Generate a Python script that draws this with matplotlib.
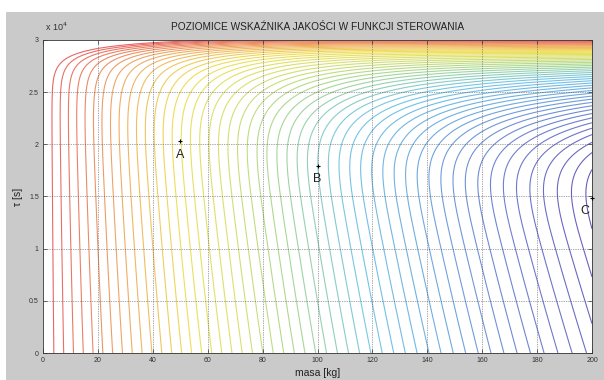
import numpy as np
import matplotlib
matplotlib.use('Agg')
import matplotlib.pyplot as plt
from matplotlib.colors import LinearSegmentedColormap, Normalize
from matplotlib.patches import Rectangle

# ---------------- data ----------------
mass_limits = [0, 200]
tau_limits = [0, 30000]
opt_mass = [50, 100, 200]          # points A, B, C
opt_tau = [20300, 17950, 14900]
opt_labels = ['A', 'B', 'C']
x_ticks = [0, 20, 40, 60, 80, 100, 120, 140, 160, 180, 200]
x_tick_labels = ['0', '20', '40', '60', '80', '100', '120', '140', '160', '180', '200']
y_ticks = [0, 5000, 10000, 15000, 20000, 25000, 30000]
y_tick_labels = ['0', '0.5', '1', '1.5', '2', '2.5', '3']
level_start, level_stop, level_step = 0.3, 51.5, 1.0

# quality-index surface model (in contour-level units, tau in 1e4 s)
F_coef = [0.000379, -0.338, 52.4]   # mass term
w_max, w_scale = 2.5, 90.0          # mass coupling of tau term
v_eps, v_c, v_p, v_shift = 0.1, 4.67, 2.98, 0.09
d_amp, d_scale = 10.6, 0.09         # steep rise near tau max

cmap_stops = [0.0, 0.12, 0.25, 0.38, 0.52, 0.62, 0.72, 0.85, 1.0]
cmap_cols = ['#6a5cbd', '#7080cf', '#70a8df', '#74c6e8', '#aad892',
             '#d8e072', '#efe058', '#f0ab66', '#e86666']

# ---------------- surface ----------------
m = np.linspace(mass_limits[0], mass_limits[1], 501)
tau = np.linspace(tau_limits[0], tau_limits[1], 751)
M, TAU = np.meshgrid(m, tau)
t = TAU / 1e4
tstar = np.polyval(np.polyfit(opt_mass, np.array(opt_tau) / 1e4, 2), M) - v_shift
x = t - tstar
V = v_eps * np.logaddexp(0, -x / v_eps) - v_eps * np.log(2) + v_c * np.clip(x, 0, None) ** v_p
W = w_max * (1 - np.exp(-M / w_scale))
J = np.polyval(F_coef, M) + W * V + d_amp * np.exp((t - 3) / d_scale)

levels = np.arange(level_start, level_stop, level_step)
cmap = LinearSegmentedColormap.from_list('scan', list(zip(cmap_stops, cmap_cols)))

# ---------------- figure ----------------
fig = plt.figure(figsize=(6.04, 3.80), dpi=100, facecolor='white')
bg = Rectangle((6 / 604, 0), 1 - 6 / 604, (380 - 12) / 380,
               transform=fig.transFigure, facecolor='#cacaca',
               edgecolor='none', zorder=-10)
fig.patches.append(bg)
ax = fig.add_axes([43 / 604, (380 - 353) / 380, (592 - 43) / 604, (353 - 40) / 380])
ax.set_zorder(1)
ax.set_facecolor('white')

ax.contour(M, TAU, J, levels=levels, cmap=cmap,
           norm=Normalize(levels[0], levels[-1]), linewidths=0.8)

for mx, ty, lab in zip(opt_mass, opt_tau, opt_labels):
    ax.plot(mx, ty, marker='+', color='k', ms=3.5, mew=0.8, clip_on=False, zorder=5)
    dx = -5 if lab == 'C' else 0
    ax.annotate(lab, (mx, ty), xytext=(dx, -14), textcoords='offset points',
                fontsize=9, family='Liberation Sans', ha='center', va='bottom',
                color='#222222')

ax.set_xlim(mass_limits)
ax.set_ylim(tau_limits)
ax.set_xticks(x_ticks)
ax.set_xticklabels(x_tick_labels)
ax.set_yticks(y_ticks)
ax.set_yticklabels(y_tick_labels)
ax.tick_params(direction='in', length=3, width=0.5, labelsize=5,
               top=True, right=True, pad=3, colors='#333333')
for lab in ax.get_xticklabels() + ax.get_yticklabels():
    lab.set_family('Liberation Sans')
ax.grid(True, linestyle=(0, (1, 1.5)), color='#555555', linewidth=0.5)
ax.set_axisbelow(False)
for s in ax.spines.values():
    s.set_linewidth(0.6)
    s.set_color('#333333')

ax.set_title('POZIOMICE WSKAŹNIKA JAKOŚCI W FUNKCJI STEROWANIA',
             fontsize=7.3, family='Liberation Sans', pad=7, color='#222222')
ax.text(0.003, 1.022, 'x 10$^{4}$', transform=ax.transAxes, fontsize=6.5,
        family='Liberation Sans', ha='left', va='bottom', color='#333333')
ax.set_xlabel('masa [kg]', fontsize=7.5, family='Liberation Sans', labelpad=3,
              color='#222222')
ax.set_ylabel('τ [s]', fontsize=7.5, family='Liberation Sans', labelpad=4,
              color='#222222')

fig.savefig('out.png', dpi=100, facecolor=fig.get_facecolor())
